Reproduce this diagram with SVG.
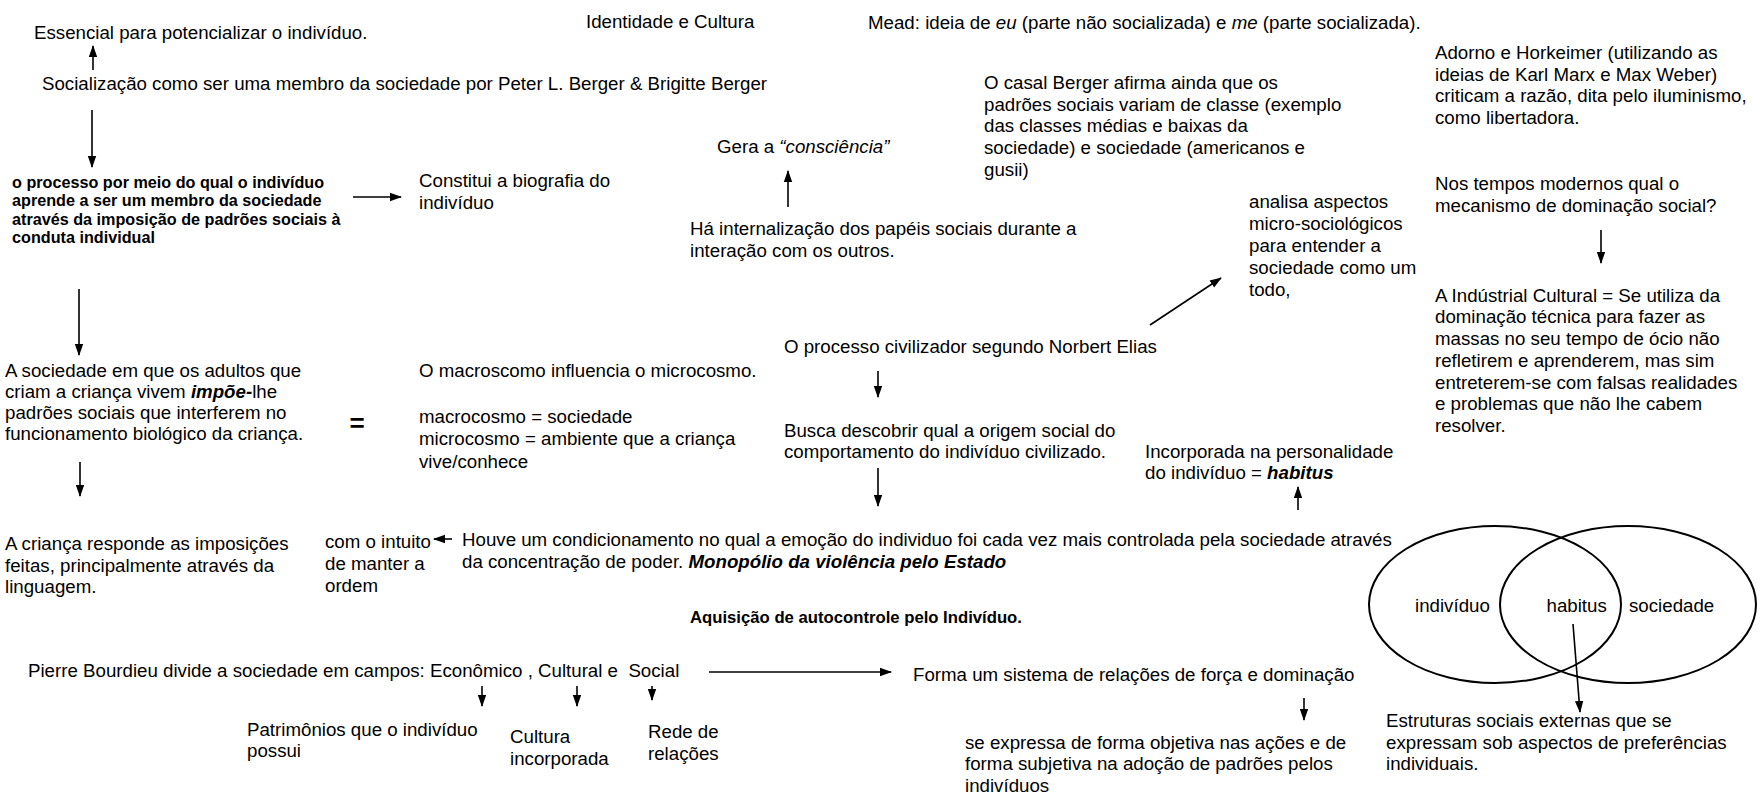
<svg xmlns="http://www.w3.org/2000/svg" width="1757" height="807" viewBox="0 0 1757 807">
<defs>
<style>
text{font-family:"Liberation Sans",Arial,sans-serif;font-size:18.7px;fill:#000}
.b{font-weight:bold;font-size:16.2px}
.b2{font-weight:bold;font-size:16.7px}
.i{font-style:italic}
.bi{font-weight:bold;font-style:italic}
.eq{font-weight:bold;font-size:26px}
.c line,.c path{stroke:#000;stroke-width:1.6;fill:none}
.v{fill:none;stroke:#000;stroke-width:2}
</style>
<marker id="ah" markerUnits="userSpaceOnUse" markerWidth="12" markerHeight="10" refX="11" refY="5" orient="auto">
<path d="M0,0.8 L12,5 L0,9.2 z" fill="#000"/>
</marker>
</defs>
<rect width="1757" height="807" fill="#fff"/>

<g id="n-essencial"><text x="34" y="38.5">Essencial para potencializar o indivíduo.</text></g>
<g id="n-identidade"><text x="586" y="27.5">Identidade e Cultura</text></g>
<g id="n-mead"><text x="868" y="29">Mead: ideia de <tspan class="i">eu</tspan> (parte não socializada) e <tspan class="i">me</tspan> (parte socializada).</text></g>
<g id="n-socializacao"><text x="42" y="89.5">Socialização como ser uma membro da sociedade por Peter L. Berger &amp; Brigitte Berger</text></g>
<g id="n-processo"><text class="b" x="12" y="187.5">o processo por meio do qual o indivíduo</text><text class="b" x="12" y="206">aprende a ser um membro da sociedade</text><text class="b" x="12" y="224.5">através da imposição de padrões sociais à</text><text class="b" x="12" y="243">conduta individual</text></g>
<g id="n-biografia"><text x="419" y="187">Constitui a biografia do</text><text x="419" y="209">indivíduo</text></g>
<g id="n-gera"><text x="717" y="152.5">Gera a <tspan class="i">“consciência”</tspan></text></g>
<g id="n-internalizacao"><text x="690" y="235">Há internalização dos papéis sociais durante a</text><text x="690" y="256.5">interação com os outros.</text></g>
<g id="n-casal"><text x="984" y="89">O casal Berger afirma ainda que os</text><text x="984" y="110.7">padrões sociais variam de classe (exemplo</text><text x="984" y="132.4">das classes médias e baixas da</text><text x="984" y="154.1">sociedade) e sociedade (americanos e</text><text x="984" y="175.8">gusii)</text></g>
<g id="n-adorno"><text x="1435" y="59">Adorno e Horkeimer (utilizando as</text><text x="1435" y="80.7">ideias de Karl Marx e Max Weber)</text><text x="1435" y="102.4">criticam a razão, dita pelo iluminismo,</text><text x="1435" y="124.1">como libertadora.</text></g>
<g id="n-tempos"><text x="1435" y="190">Nos tempos modernos qual o</text><text x="1435" y="211.7">mecanismo de dominação social?</text></g>
<g id="n-industria"><text x="1435" y="301.7">A Indústrial Cultural = Se utiliza da</text><text x="1435" y="323.4">dominação técnica para fazer as</text><text x="1435" y="345.1">massas no seu tempo de ócio não</text><text x="1435" y="366.8">refletirem e aprenderem, mas sim</text><text x="1435" y="388.5">entreterem-se com falsas realidades</text><text x="1435" y="410.2">e problemas que não lhe cabem</text><text x="1435" y="431.9">resolver.</text></g>
<g id="n-analisa"><text x="1249" y="207.5">analisa aspectos</text><text x="1249" y="229.5">micro-sociológicos</text><text x="1249" y="251.5">para entender a</text><text x="1249" y="273.5">sociedade como um</text><text x="1249" y="295.5">todo,</text></g>
<g id="n-elias"><text x="784" y="353.3">O processo civilizador segundo Norbert Elias</text></g>
<g id="n-busca"><text x="784" y="436.5">Busca descobrir qual a origem social do</text><text x="784" y="458.2">comportamento do indivíduo civilizado.</text></g>
<g id="n-incorporada"><text x="1145" y="457.5">Incorporada na personalidade</text><text x="1145" y="479.2">do indivíduo = <tspan class="bi">habitus</tspan></text></g>
<g id="n-sociedade"><text x="5" y="376.5">A sociedade em que os adultos que</text><text x="5" y="397.8">criam a criança vivem <tspan class="bi">impõe-</tspan>lhe</text><text x="5" y="419.1">padrões sociais que interferem no</text><text x="5" y="440.4">funcionamento biológico da criança.</text></g>
<g id="n-igual"><text class="eq" x="357" y="431.5" text-anchor="middle">=</text></g>
<g id="n-macro"><text x="419" y="376.5">O macroscomo influencia o microcosmo.</text><text x="419" y="422.5">macrocosmo = sociedade</text><text x="419" y="445">microcosmo = ambiente que a criança</text><text x="419" y="467.5">vive/conhece</text></g>
<g id="n-crianca"><text x="5" y="550">A criança responde as imposições</text><text x="5" y="571.7">feitas, principalmente através da</text><text x="5" y="593.4">linguagem.</text></g>
<g id="n-intuito"><text x="325" y="547.5">com o intuito</text><text x="325" y="570">de manter a</text><text x="325" y="592">ordem</text></g>
<g id="n-houve"><text x="462" y="546">Houve um condicionamento no qual a emoção do individuo foi cada vez mais controlada pela sociedade através</text><text x="462" y="567.7">da concentração de poder. <tspan class="bi">Monopólio da violência pelo Estado</tspan></text></g>
<g id="n-aquisicao"><text class="b2" x="690" y="623">Aquisição de autocontrole pelo Indivíduo.</text></g>
<g id="n-bourdieu"><text x="28" y="677" style="white-space:pre">Pierre Bourdieu divide a sociedade em campos: Econômico , Cultural e  Social</text></g>
<g id="n-forma"><text x="913" y="680.5">Forma um sistema de relações de força e dominação</text></g>
<g id="n-patrimonios"><text x="247" y="735.5">Patrimônios que o indivíduo</text><text x="247" y="757.2">possui</text></g>
<g id="n-cultura"><text x="510" y="743">Cultura</text><text x="510" y="764.7">incorporada</text></g>
<g id="n-rede"><text x="648" y="738">Rede de</text><text x="648" y="759.7">relações</text></g>
<g id="n-expressa"><text x="965" y="748.5">se expressa de forma objetiva nas ações e de</text><text x="965" y="770.2">forma subjetiva na adoção de padrões pelos</text><text x="965" y="792.4">indivíduos</text></g>
<g id="n-estruturas"><text x="1386" y="727">Estruturas sociais externas que se</text><text x="1386" y="748.7">expressam sob aspectos de preferências</text><text x="1386" y="770.4">individuais.</text></g>
<g id="n-venn">
<ellipse class="v" cx="1495" cy="604.5" rx="126" ry="78.5"/>
<ellipse class="v" cx="1628" cy="604.5" rx="128" ry="78.5"/>
<text x="1415" y="611.7">indivíduo</text>
<text x="1546.5" y="611.7">habitus</text>
<text x="1629" y="611.7">sociedade</text>
</g>

<g id="connectors" class="c">
<line x1="93" y1="70" x2="93" y2="46" marker-end="url(#ah)"/>
<line x1="92" y1="110" x2="92" y2="167" marker-end="url(#ah)"/>
<line x1="353" y1="197" x2="401" y2="197" marker-end="url(#ah)"/>
<line x1="788" y1="207" x2="788" y2="171" marker-end="url(#ah)"/>
<line x1="79" y1="289" x2="79" y2="355" marker-end="url(#ah)"/>
<line x1="80" y1="462" x2="80" y2="496" marker-end="url(#ah)"/>
<line x1="452" y1="539" x2="434" y2="539" marker-end="url(#ah)"/>
<line x1="1150" y1="325" x2="1221" y2="278" marker-end="url(#ah)"/>
<line x1="878" y1="371" x2="878" y2="397" marker-end="url(#ah)"/>
<line x1="878" y1="468" x2="878" y2="506" marker-end="url(#ah)"/>
<line x1="1298" y1="510" x2="1298" y2="487" marker-end="url(#ah)"/>
<line x1="1601" y1="230" x2="1601" y2="263" marker-end="url(#ah)"/>
<line x1="709" y1="672" x2="891" y2="672" marker-end="url(#ah)"/>
<line x1="482" y1="686" x2="482" y2="706" marker-end="url(#ah)"/>
<line x1="577" y1="686" x2="577" y2="706" marker-end="url(#ah)"/>
<line x1="652" y1="686" x2="652" y2="700" marker-end="url(#ah)"/>
<line x1="1304" y1="698" x2="1304" y2="720" marker-end="url(#ah)"/>
<line x1="1573" y1="624" x2="1580" y2="712" marker-end="url(#ah)"/>
</g>
</svg>
